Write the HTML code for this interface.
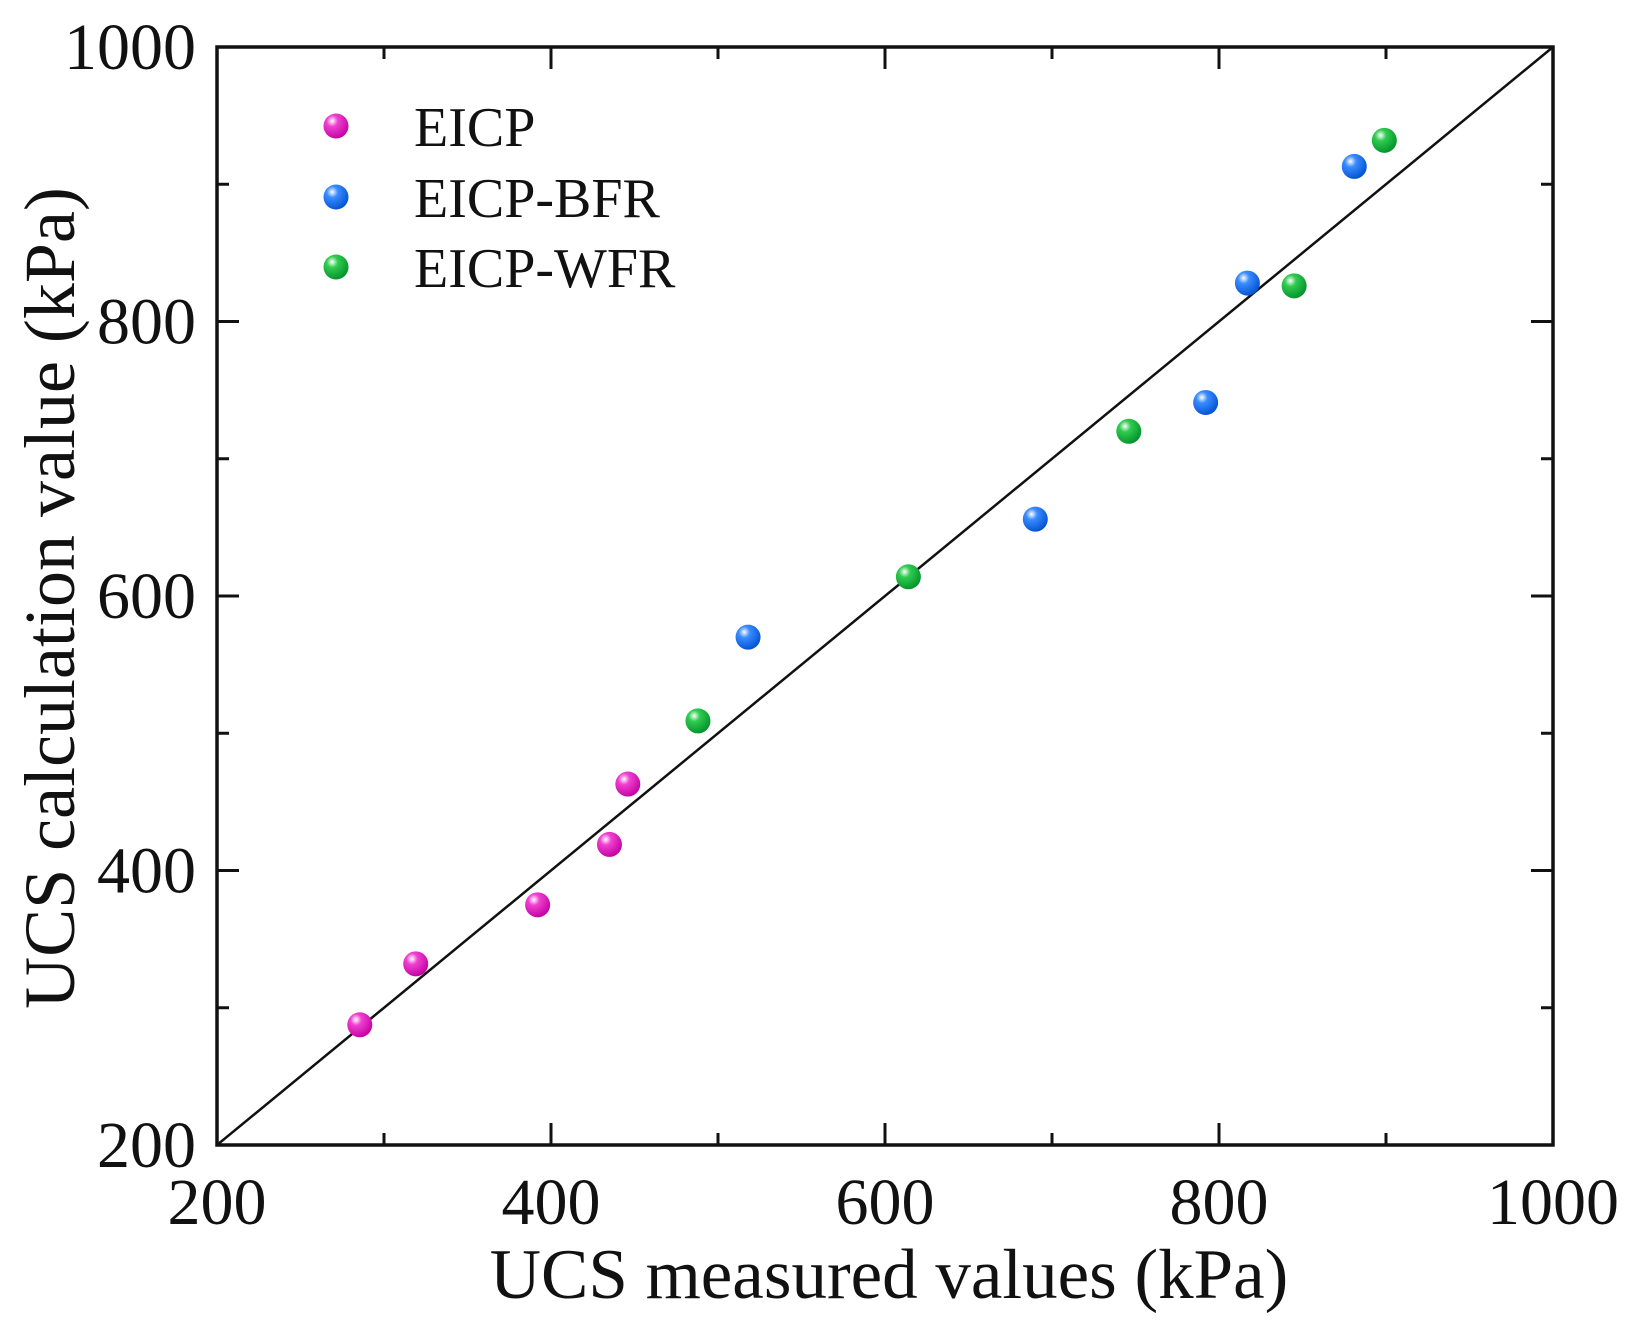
<!DOCTYPE html>
<html><head><meta charset="utf-8"><style>
body{margin:0;background:#fff}
text{font-family:"Liberation Serif",serif;fill:#111}
</style></head><body>
<svg id="chart" width="1636" height="1317">
<defs>
<radialGradient id="gE" cx="0.35" cy="0.3" r="0.75"><stop offset="0" stop-color="#fff"/><stop offset="0.3" stop-color="#f040d0"/><stop offset="1" stop-color="#c000a0"/></radialGradient>
<radialGradient id="gB" cx="0.35" cy="0.3" r="0.75"><stop offset="0" stop-color="#fff"/><stop offset="0.3" stop-color="#3a8cff"/><stop offset="1" stop-color="#0050d0"/></radialGradient>
<radialGradient id="gW" cx="0.35" cy="0.3" r="0.75"><stop offset="0" stop-color="#fff"/><stop offset="0.3" stop-color="#30cc50"/><stop offset="1" stop-color="#00902a"/></radialGradient>
</defs>
<g id="plot"></g>
</svg>
<script>
const eicpX=[285.5,319,392,435,446];
const eicpY=[287.6,332,375,419,463];
const bfrX=[518,690,792,817,881];
const bfrY=[570,656,741,828,913];
const wfrX=[488,614,746,845,899];
const wfrY=[509,614,720,826,932];
const tickVals=[200,400,600,800,1000];
const minorVals=[300,500,700,900];
const NS='http://www.w3.org/2000/svg';
const L=217,R=1553,T=47,B=1145;
const sx=v=>L+(v-200)/800*(R-L);
const sy=v=>B-(v-200)/800*(B-T);
const g=document.getElementById('plot');
function mk(tag,a){const e=document.createElementNS(NS,tag);for(const k in a)e.setAttribute(k,a[k]);g.appendChild(e);return e;}
let e=mk('line',{x1:sx(200),y1:sy(200),x2:sx(1000),y2:sy(1000),stroke:'#111','stroke-width':2.5});


e=mk('rect',{x:L,y:T,width:R-L,height:B-T,fill:'none',stroke:'#111','stroke-width':3.5});


function ticks(vals,len){vals.forEach(v=>{
 [[sx(v),B,sx(v),B-len],[sx(v),T,sx(v),T+len],[L,sy(v),L+len,sy(v)],[R,sy(v),R-len,sy(v)]].forEach(c=>{
  const t=mk('line',{x1:c[0],y1:c[1],x2:c[2],y2:c[3],stroke:'#111','stroke-width':3});
  
  
 });});}
ticks(tickVals.slice(1,4),22);ticks(minorVals,12);
tickVals.forEach(v=>{
 let t=mk('text',{x:sx(v),y:1224,'font-size':66,'text-anchor':'middle'});t.textContent=v;
 
 
 t=mk('text',{x:196,y:sy(v)+22,'font-size':66,'text-anchor':'end'});t.textContent=v;
 
 
});
let t=mk('text',{x:889,y:1298,'font-size':71,'text-anchor':'middle'});t.textContent='UCS measured values (kPa)';


t=mk('text',{x:0,y:0,'font-size':72,'text-anchor':'middle',transform:'translate(74,598) rotate(-90)'});t.textContent='UCS calculation value (kPa)';


function series(xs,ys,fill,name){xs.forEach((x,i)=>{
 const c=mk('circle',{cx:sx(x),cy:sy(ys[i]),r:12.5,fill:fill});
 
 
});}
series(eicpX,eicpY,'url(#gE)','eicp');
series(bfrX,bfrY,'url(#gB)','eicp-bfr');
series(wfrX,wfrY,'url(#gW)','eicp-wfr');
[['EICP','url(#gE)',126],['EICP-BFR','url(#gB)',197],['EICP-WFR','url(#gW)',267]].forEach(l=>{
 const c=mk('circle',{cx:336,cy:l[2],r:12.5,fill:l[1]});
 
 
 const tx=mk('text',{x:414,y:l[2]+20,'font-size':56});tx.textContent=l[0];
 
 
});
</script>
</body></html>
